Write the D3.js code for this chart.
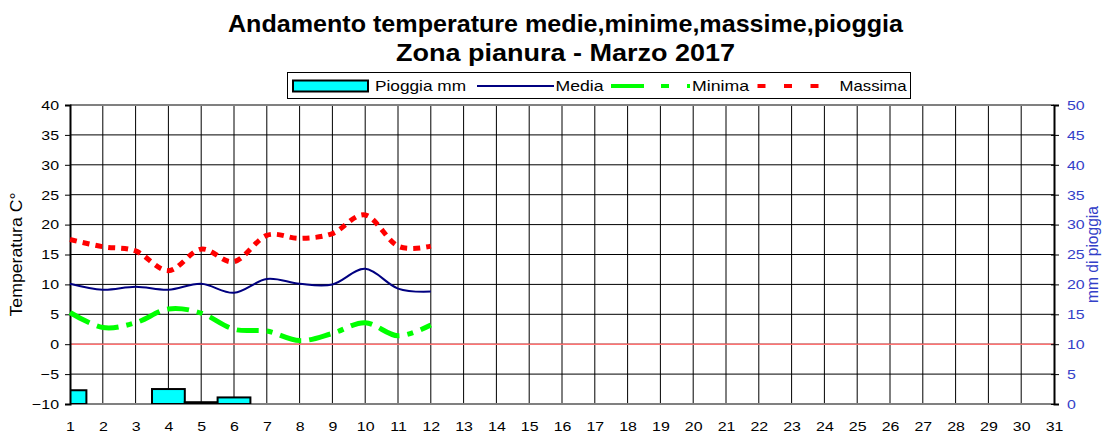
<!DOCTYPE html>
<html>
<head>
<meta charset="utf-8">
<script src="https://cdn.jsdelivr.net/npm/d3@7"></script>
<style>
  body { margin: 0; background: #fff; }
  svg { display: block; font-family: "Liberation Sans", Arial, sans-serif; }
</style>
</head>
<body>
<svg id="chart" width="1104" height="435"></svg>
<script>
// ---- Data ----
const days = d3.range(1, 32);                 // 1..31
const tempTicks = [-10, -5, 0, 5, 10, 15, 20, 25, 30, 35, 40];
const rainTicks = [0, 5, 10, 15, 20, 25, 30, 35, 40, 45, 50];
const dataDays = [1, 2, 3, 4, 5, 6, 7, 8, 9, 10, 11, 12];
const media   = [10.1, 9.1, 9.6, 9.1, 10.1, 8.6, 10.9, 10.1, 10.0, 12.6, 9.3, 8.8];
const minima  = [5.3, 2.8, 3.6, 5.9, 5.2, 2.5, 2.2, 0.6, 1.8, 3.6, 1.4, 3.2];
const massima = [17.5, 16.3, 15.6, 12.3, 15.9, 13.8, 18.2, 17.7, 18.5, 21.6, 16.4, 16.4];
const rainDays = [1, 4, 5, 6];
const pioggia  = [2.3, 2.5, 0.3, 1.1];
const titleLines = ["Andamento temperature medie,minime,massime,pioggia", "Zona pianura - Marzo 2017"];
const legendLabels = ["Pioggia mm", "Media", "Minima", "Massima"];

// ---- Layout ----
const svg = d3.select("#chart");
const L = 70, R = 1054, T = 105, B = 404;
const x = d3.scalePoint().domain(days).range([L, R]);
const yT = d3.scaleLinear().domain([-10, 40]).range([B, T]);
const yR = d3.scaleLinear().domain([0, 50]).range([B, T]);
const step = x.step();
const STRETCH = 1.18;
function stretch(sel) {
  sel.each(function () {
    const w = this.getComputedTextLength();
    d3.select(this).attr("textLength", w * STRETCH).attr("lengthAdjust", "spacingAndGlyphs");
  });
}

// Title
svg.append("text").attr("x", 565.5).attr("y", 32).attr("text-anchor", "middle")
  .attr("font-size", 24).attr("font-weight", "bold")
  .attr("textLength", 675).attr("lengthAdjust", "spacingAndGlyphs")
  .text(titleLines[0]);
svg.append("text").attr("x", 565.5).attr("y", 61).attr("text-anchor", "middle")
  .attr("font-size", 24).attr("font-weight", "bold")
  .attr("textLength", 339).attr("lengthAdjust", "spacingAndGlyphs")
  .text(titleLines[1]);

// Clip
svg.append("defs").append("clipPath").attr("id", "plotclip")
  .append("rect").attr("x", L).attr("y", T).attr("width", R - L).attr("height", B - T);

// Grid
const grid = svg.append("g");
grid.selectAll("line.h").data(tempTicks.filter(t => t > -10 && t < 40)).join("line")
  .attr("x1", L).attr("x2", R).attr("y1", d => yT(d)).attr("y2", d => yT(d))
  .attr("stroke", "#000").attr("stroke-width", 1);
grid.selectAll("line.v").data(days.slice(1, -1)).join("line")
  .attr("y1", T).attr("y2", B).attr("x1", d => x(d)).attr("x2", d => x(d))
  .attr("stroke", "#000").attr("stroke-width", 1);
grid.append("line").attr("x1", L).attr("x2", R).attr("y1", T).attr("y2", T)
  .attr("stroke", "#808080").attr("stroke-width", 2);
grid.append("line").attr("x1", L).attr("x2", R).attr("y1", B).attr("y2", B)
  .attr("stroke", "#808080").attr("stroke-width", 2);

// Zero line
svg.append("line").attr("x1", L).attr("x2", R).attr("y1", yT(0)).attr("y2", yT(0))
  .attr("stroke", "#ff7373").attr("stroke-width", 1.5);

// Bars
svg.append("g").attr("clip-path", "url(#plotclip)")
  .selectAll("rect").data(rainDays.map((d, i) => ({ d, v: pioggia[i] }))).join("rect")
  .attr("x", d => x(d.d) - step / 2).attr("width", step)
  .attr("y", d => yR(d.v)).attr("height", d => yR(0) - yR(d.v))
  .attr("fill", "#00ffff").attr("stroke", "#000").attr("stroke-width", 2);

// Axes
const leftAxis = svg.append("g").attr("transform", `translate(${L},0)`)
  .call(d3.axisLeft(yT).tickValues(tempTicks).tickSize(5).tickPadding(6));
leftAxis.select(".domain").attr("stroke", "#000").attr("stroke-width", 2);
leftAxis.selectAll("text").attr("font-size", 13.5).attr("fill", "#000").attr("font-family", "Liberation Sans, Arial").call(stretch);
leftAxis.selectAll(".tick line").attr("stroke", "#000");

const rightAxis = svg.append("g").attr("transform", `translate(${R},0)`)
  .call(d3.axisRight(yR).tickValues(rainTicks).tickSize(5).tickPadding(8));
rightAxis.selectAll(".tick line").attr("x1", -3).attr("stroke", "#000");
rightAxis.select(".domain").attr("stroke", "#000").attr("stroke-width", 2);
rightAxis.selectAll("text").attr("font-size", 13.5).attr("fill", "#3340c8").attr("font-family", "Liberation Sans, Arial").call(stretch);

const bottomAxis = svg.append("g").attr("transform", `translate(0,${B})`)
  .call(d3.axisBottom(x).tickSize(0).tickPadding(17));
bottomAxis.select(".domain").remove();
bottomAxis.selectAll("text").attr("font-size", 13.5).attr("fill", "#000").attr("font-family", "Liberation Sans, Arial").call(stretch);

// Axis titles
svg.append("text").attr("transform", `translate(22,${(T + B) / 2}) rotate(-90)`)
  .attr("text-anchor", "middle").attr("font-size", 16)
  .attr("textLength", 124).attr("lengthAdjust", "spacingAndGlyphs").text("Temperatura C°");
svg.append("text").attr("transform", `translate(1098,${(T + B) / 2}) rotate(-90)`)
  .attr("text-anchor", "middle").attr("font-size", 16).attr("fill", "#3340c8")
  .attr("textLength", 97).attr("lengthAdjust", "spacingAndGlyphs").text("mm di pioggia");

// Lines
const curve = d3.curveCardinal.tension(0);
const mkLine = vals => d3.line().x((d, i) => x(dataDays[i])).y(d => yT(d)).curve(curve)(vals);
const lines = svg.append("g");
lines.append("path").attr("d", mkLine(minima)).attr("fill", "none")
  .attr("stroke", "#00ff00").attr("stroke-width", 5).attr("stroke-dasharray", "22,8,22,8,6,8");
lines.append("path").attr("d", mkLine(massima)).attr("fill", "none")
  .attr("stroke", "#ff0000").attr("stroke-width", 5).attr("stroke-dasharray", "7,6");
lines.append("path").attr("d", mkLine(media)).attr("fill", "none")
  .attr("stroke", "#000080").attr("stroke-width", 2);

// Legend
const lg = svg.append("g");
lg.append("rect").attr("x", 287.5).attr("y", 72.5).attr("width", 623).attr("height", 26)
  .attr("fill", "#fff").attr("stroke", "#000").attr("stroke-width", 1);
lg.append("rect").attr("x", 293).attr("y", 80.5).attr("width", 75).attr("height", 11)
  .attr("fill", "#00ffff").attr("stroke", "#000").attr("stroke-width", 2);
const legText = (xx, t, w) => lg.append("text").attr("x", xx).attr("y", 91).attr("font-size", 15)
  .attr("textLength", w).attr("lengthAdjust", "spacingAndGlyphs").text(t);
legText(375, legendLabels[0], 91);
lg.append("line").attr("x1", 477).attr("x2", 554).attr("y1", 86).attr("y2", 86)
  .attr("stroke", "#000080").attr("stroke-width", 2);
legText(555.5, legendLabels[1], 48);
lg.append("line").attr("x1", 611).attr("x2", 690).attr("y1", 86).attr("y2", 86)
  .attr("stroke", "#00ff00").attr("stroke-width", 4).attr("stroke-dasharray", "33,17,8,18");
legText(692, legendLabels[2], 57);
lg.append("line").attr("x1", 757.5).attr("x2", 820).attr("y1", 86).attr("y2", 86)
  .attr("stroke", "#ff0000").attr("stroke-width", 4).attr("stroke-dasharray", "8,18.5");
legText(839.5, legendLabels[3], 67);
</script>
</body>
</html>
